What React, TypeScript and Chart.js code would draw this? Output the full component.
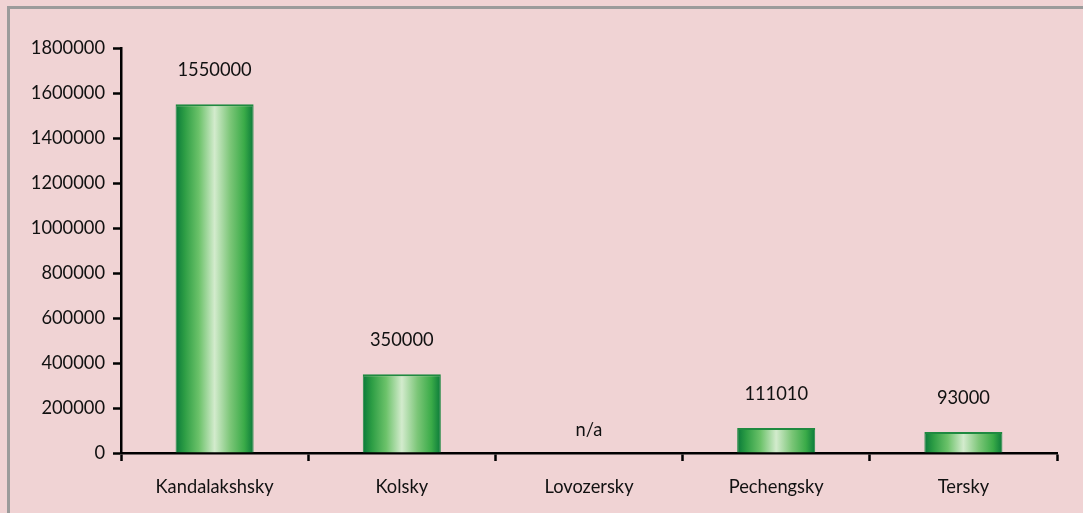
import React, { useEffect, useRef } from "react";
import { Chart, registerables } from "chart.js";

Chart.register(...registerables);

const categories = ["Kandalakshsky", "Kolsky", "Lovozersky", "Pechengsky", "Tersky"];
const values: (number | null)[] = [1550000, 350000, null, 111010, 93000];
const yTicks = [0, 200000, 400000, 600000, 800000, 1000000, 1200000, 1400000, 1600000, 1800000];
const missingLabel = "n/a";

const BG = "#f0d3d4";
const FRAME = "#9b9b9b";
const FONT = "Lato, 'Open Sans', sans-serif";
const FONT_SIZE = 18.3;
const TEXT = "#111111";
const BAR_PCT = 0.417;

const framePlugin = {
  id: "frame",
  beforeDraw(chart: any) {
    const ctx = chart.ctx;
    ctx.save();
    ctx.fillStyle = BG;
    ctx.fillRect(0, 0, chart.width, chart.height);
    ctx.fillStyle = FRAME;
    ctx.fillRect(7, 6, chart.width - 7, 3);
    ctx.fillRect(7, 6, 3, chart.height - 6);
    ctx.restore();
  },
};

const labelPlugin = {
  id: "valueLabels",
  afterDatasetsDraw(chart: any) {
    const ctx = chart.ctx;
    const meta = chart.getDatasetMeta(0);
    const yScale = chart.scales.y;
    ctx.save();
    ctx.font = `${FONT_SIZE}px ${FONT}`;
    ctx.fillStyle = TEXT;
    ctx.textAlign = "center";
    ctx.textBaseline = "middle";
    meta.data.forEach((el: any, i: number) => {
      const v = values[i];
      if (v === null) {
        ctx.fillText(missingLabel, el.x, yScale.getPixelForValue(0) - 23);
      } else {
        ctx.fillText(String(v), el.x, el.y - 34);
      }
    });
    ctx.restore();
  },
};

export default function App() {
  const ref = useRef<HTMLCanvasElement>(null);
  useEffect(() => {
    if (!ref.current) return;
    const chart = new Chart(ref.current, {
      type: "bar",
      data: {
        labels: categories,
        datasets: [
          {
            data: values as any,
            backgroundColor: (c: any) => {
              const ch = c.chart;
              const x = ch.scales && ch.scales.x;
              if (!x || c.dataIndex === undefined) return "#4caf50";
              const center = x.getPixelForValue(c.dataIndex);
              const half = ((x.width / categories.length) * BAR_PCT) / 2;
              if (!isFinite(center) || !isFinite(half)) return "#4caf50";
              const g = ch.ctx.createLinearGradient(center - half, 0, center + half, 0);
              g.addColorStop(0, "#0a7a3a");
              g.addColorStop(0.12, "#2e9e45");
              g.addColorStop(0.3, "#6cc26a");
              g.addColorStop(0.5, "#d3ebcd");
              g.addColorStop(0.7, "#7cc678");
              g.addColorStop(0.88, "#3aab48");
              g.addColorStop(1, "#0a7a3a");
              return g;
            },
            borderColor: "#1f8a40",
            borderWidth: { top: 2, left: 1, right: 1, bottom: 0 } as any,
            categoryPercentage: 1,
            barPercentage: BAR_PCT,
          },
        ],
      },
      options: {
        responsive: false,
        animation: false,
        layout: { padding: { top: 48, right: 26, left: 0, bottom: 0 } },
        plugins: {
          legend: { display: false },
          tooltip: { enabled: false },
          title: { display: false },
        },
        scales: {
          x: {
            grid: {
              display: true,
              drawOnChartArea: false,
              drawTicks: true,
              tickLength: 8,
              tickWidth: 2.5,
              tickColor: "#000",
              offset: true,
            },
            border: { display: true, color: "#000", width: 2.5 },
            ticks: {
              color: TEXT,
              font: { family: FONT, size: FONT_SIZE },
              padding: 15,
            },
            afterFit: (s: any) => {
              s.height = 60;
            },
          },
          y: {
            min: 0,
            max: 1800000,
            afterBuildTicks: (s: any) => {
              s.ticks = yTicks.map((v) => ({ value: v }));
            },
            grid: {
              display: true,
              drawOnChartArea: false,
              drawTicks: true,
              tickLength: 8,
              tickWidth: 2.5,
              tickColor: "#000",
            },
            border: { display: true, color: "#000", width: 2.5 },
            ticks: {
              color: TEXT,
              font: { family: FONT, size: FONT_SIZE },
              padding: 8,
              callback: (v: any) => String(v),
            },
            afterFit: (s: any) => {
              s.width = 121;
            },
          },
        },
      },
      plugins: [framePlugin, labelPlugin],
    });
    return () => chart.destroy();
  }, []);

  return (
    <div
      style={{
        position: "fixed",
        left: 0,
        top: 0,
        width: 1083,
        height: 513,
        background: BG,
        overflow: "hidden",
      }}
    >
      <canvas
        ref={ref}
        width={1083}
        height={513}
        style={{ position: "absolute", left: 0, top: 0, width: 1083, height: 513 }}
      />
    </div>
  );
}
